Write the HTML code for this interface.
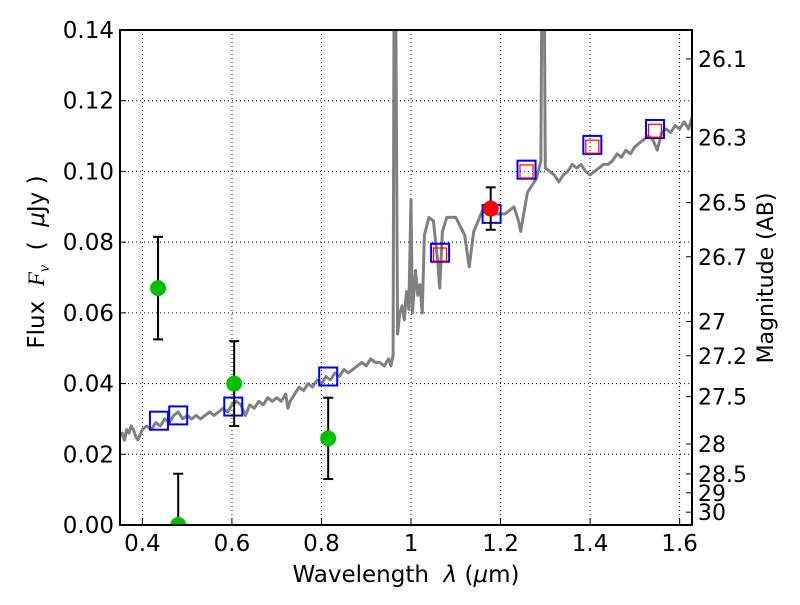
<!DOCTYPE html>
<html><head><meta charset="utf-8"><style>
html,body{margin:0;padding:0;background:#fff;}
svg text{font-family:"DejaVu Sans","Liberation Sans",sans-serif;white-space:pre;}
</style></head><body>
<svg id="chart" width="800" height="600" xmlns="http://www.w3.org/2000/svg">
<rect width="800" height="600" fill="#fff"/>
<defs><clipPath id="pc"><rect x="120" y="30" width="572" height="495"/></clipPath></defs>
<g id="grid"></g>
<g id="marks" clip-path="url(#pc)"></g>
<g id="axes"></g>
<text x="406" y="582" font-size="23" text-anchor="middle">Wavelength  <tspan font-style="italic">λ</tspan> (<tspan font-style="italic">μ</tspan>m)</text>
<text transform="translate(44,262) rotate(-90)" font-size="23" text-anchor="middle">Flux  <tspan font-style="italic" font-family="Liberation Serif">F<tspan font-size="16" dy="5">ν</tspan></tspan><tspan dy="-5">  (  </tspan><tspan font-style="italic">μ</tspan>Jy )</text>
<text transform="translate(773,278) rotate(-90)" font-size="22" text-anchor="middle">Magnitude (AB)</text>
</svg>
<script>
const specWave=[0.35,0.355,0.36,0.365,0.37,0.375,0.38,0.385,0.39,0.40,0.41,0.42,0.43,0.44,0.45,0.46,0.47,0.48,0.49,0.50,0.51,0.52,0.53,0.54,0.55,0.56,0.57,0.58,0.59,0.60,0.61,0.62,0.63,0.64,0.65,0.66,0.67,0.68,0.69,0.70,0.71,0.72,0.725,0.73,0.74,0.75,0.76,0.77,0.78,0.79,0.80,0.81,0.82,0.83,0.84,0.85,0.86,0.87,0.88,0.89,0.90,0.91,0.92,0.93,0.94,0.95,0.955,0.96,0.962,0.966,0.97,0.975,0.98,0.985,0.99,0.995,1.0,1.003,1.01,1.015,1.02,1.025,1.03,1.04,1.05,1.06,1.064,1.07,1.08,1.10,1.12,1.13,1.14,1.16,1.17,1.19,1.21,1.23,1.24,1.245,1.26,1.28,1.29,1.292,1.298,1.30,1.31,1.32,1.33,1.34,1.35,1.36,1.37,1.38,1.39,1.40,1.41,1.42,1.43,1.44,1.45,1.46,1.47,1.48,1.49,1.50,1.51,1.52,1.53,1.54,1.55,1.56,1.57,1.58,1.59,1.60,1.61,1.62,1.627];
const specFlux=[0.025,0.026,0.024,0.027,0.026,0.028,0.027,0.025,0.024,0.027,0.028,0.027,0.029,0.028,0.030,0.029,0.031,0.032,0.030,0.031,0.030,0.031,0.030,0.031,0.032,0.031,0.032,0.033,0.032,0.034,0.035,0.034,0.031,0.034,0.033,0.035,0.034,0.036,0.035,0.036,0.035,0.037,0.033,0.035,0.037,0.039,0.038,0.040,0.039,0.041,0.040,0.042,0.041,0.043,0.042,0.044,0.043,0.044,0.045,0.046,0.045,0.047,0.046,0.046,0.045,0.047,0.045,0.048,0.145,0.145,0.054,0.060,0.062,0.058,0.066,0.061,0.092,0.060,0.072,0.065,0.068,0.060,0.082,0.087,0.086,0.074,0.067,0.083,0.087,0.087,0.082,0.073,0.083,0.089,0.088,0.088,0.088,0.090,0.086,0.083,0.094,0.098,0.103,0.145,0.145,0.101,0.100,0.099,0.097,0.099,0.100,0.102,0.101,0.102,0.100,0.099,0.100,0.101,0.102,0.102,0.103,0.105,0.104,0.106,0.105,0.107,0.108,0.109,0.110,0.109,0.106,0.111,0.112,0.111,0.113,0.112,0.114,0.112,0.115,0.117];
const photWave=[0.435,0.48,0.605,0.815];
const photFlux=[0.067,0.0,0.040,0.0245];
const photErr=[0.0145,0.0145,0.012,0.0115];
const nirWave=[1.178];
const nirFlux=[0.0895];
const nirErr=[0.006];
const modelWave=[0.437,0.48,0.603,0.815,1.065,1.18,1.258,1.405,1.545];
const modelFlux=[0.0295,0.031,0.0335,0.042,0.077,0.088,0.1005,0.1075,0.112];
const redWave=[1.065,1.258,1.405,1.545];
const redFlux=[0.0765,0.100,0.107,0.1115];
const xTicks=[0.4,0.6,0.8,1.0,1.2,1.4,1.6];
const xTickLabels=["0.4","0.6","0.8","1","1.2","1.4","1.6"];
const yTicks=[0,0.02,0.04,0.06,0.08,0.10,0.12,0.14];
const yTickLabels=["0.00","0.02","0.04","0.06","0.08","0.10","0.12","0.14"];
const magTicks=[26.1,26.3,26.5,26.7,27,27.2,27.5,28,28.5,29,30];
const magTickLabels=["26.1","26.3","26.5","26.7","27","27.2","27.5","28","28.5","29","30"];

const L=120,R=692,T=30,B=525,X0=0.35,X1=1.6276,Y0=0,Y1=0.14;
const sx=v=>L+(v-X0)/(X1-X0)*(R-L);
const sy=v=>B-(v-Y0)/(Y1-Y0)*(B-T);
const NS="http://www.w3.org/2000/svg";
function mk(tag,attrs,parent){const e=document.createElementNS(NS,tag);for(const k in attrs)e.setAttribute(k,attrs[k]);parent.appendChild(e);return e;}
const grid=document.getElementById('grid'),marks=document.getElementById('marks'),axes=document.getElementById('axes');

xTicks.forEach((t,i)=>{
  const g=mk('line',{x1:sx(t),x2:sx(t),y1:T,y2:B,stroke:'#000','stroke-width':1,'stroke-dasharray':'1,3'},grid);
  
  
  const tk=mk('line',{x1:sx(t),x2:sx(t),y1:B,y2:B-6,stroke:'#000','stroke-width':1},axes);
  
  
  const tx=mk('text',{x:sx(t),y:B+26,'font-size':23,'text-anchor':'middle'},axes);
  tx.textContent=xTickLabels[i];
  
  
});
yTicks.forEach((t,i)=>{
  const g=mk('line',{x1:L,x2:R,y1:sy(t),y2:sy(t),stroke:'#000','stroke-width':1,'stroke-dasharray':'1,3'},grid);
  
  
  const tk=mk('line',{x1:L,x2:L+6,y1:sy(t),y2:sy(t),stroke:'#000','stroke-width':1},axes);
  
  
  const tx=mk('text',{x:L-6,y:sy(t)+8,'font-size':23,'text-anchor':'end'},axes);
  tx.textContent=yTickLabels[i];
  
  
});
magTicks.forEach((m,i)=>{
  const f=Math.pow(10,(23.9-m)/2.5);
  const y=sy(f);
  const tk=mk('line',{x1:R,x2:R-6,y1:y,y2:y,stroke:'#000','stroke-width':1},axes);
  
  
  const tx=mk('text',{x:R+6,y:y+8,'font-size':22},axes);
  tx.textContent=magTickLabels[i];
  
  
});

const pts=specWave.map((w,i)=>sx(w).toFixed(1)+','+sy(specFlux[i]).toFixed(1)).join(' ');
const sp=mk('polyline',{points:pts,fill:'none',stroke:'#808080','stroke-width':3,'stroke-linejoin':'round'},marks);



function errbar(w,f,e,name){
  const x=sx(w),y1=sy(f-e),y2=sy(f+e);
  const l=mk('line',{x1:x,x2:x,y1:y1,y2:y2,stroke:'#000','stroke-width':2},marks);
  
  
  [y1,y2].forEach(y=>{const c=mk('line',{x1:x-5,x2:x+5,y1:y,y2:y,stroke:'#000','stroke-width':2},marks);
    
    });
}
modelWave.forEach((w,i)=>{
  const r=mk('rect',{x:sx(w)-9,y:sy(modelFlux[i])-9,width:18,height:18,fill:'none',stroke:'#0000ff','stroke-width':2},marks);
  
  
});
redWave.forEach((w,i)=>{
  const r=mk('rect',{x:sx(w)-6.5,y:sy(redFlux[i])-6.5,width:13,height:13,fill:'none',stroke:'#ff0000','stroke-width':1.2},marks);
  
  
});
photWave.forEach((w,i)=>{
  errbar(w,photFlux[i],photErr[i],'optical-error-bar');
  const c=mk('circle',{cx:sx(w),cy:sy(photFlux[i]),r:8,fill:'#00c000'},marks);
  
  
});
nirWave.forEach((w,i)=>{
  errbar(w,nirFlux[i],nirErr[i],'nir-error-bar');
  const c=mk('circle',{cx:sx(w),cy:sy(nirFlux[i]),r:8,fill:'#ff0000'},marks);
  
  
});
const fr=mk('rect',{x:L,y:T,width:R-L,height:B-T,fill:'none',stroke:'#000','stroke-width':2},axes);


</script>
</body></html>
